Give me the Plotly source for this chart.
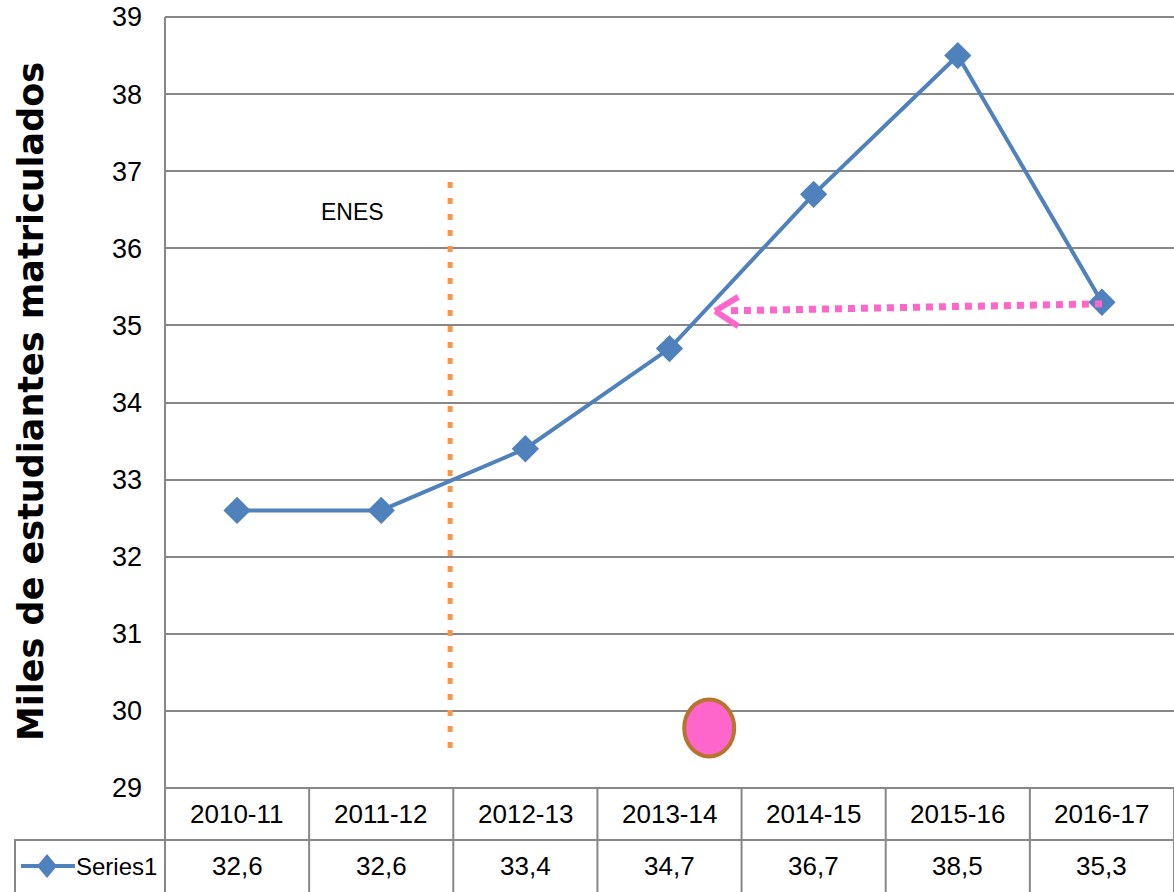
import plotly.graph_objects as go

# ---- data ----
categories = ["2010-11", "2011-12", "2012-13", "2013-14", "2014-15", "2015-16", "2016-17"]
values = [32.6, 32.6, 33.4, 34.7, 36.7, 38.5, 35.3]
value_labels = ["32,6", "32,6", "33,4", "34,7", "36,7", "38,5", "35,3"]
series_name = "Series1"
y_title = "Miles de estudiantes matriculados"
y_ticks = list(range(29, 40))

# ---- annotation positions (data coordinates) ----
enes_text = "ENES"
enes_pos = (0.80, 36.47)
enes_line_x = 1.478
enes_line_y = (29.52, 36.89)
arrow_start = (6.0, 35.28)
arrow_tip = (3.317, 35.187)
arrow_arms = [(3.477, 35.37), (3.477, 34.99)]
circle_box = (3.102, 29.41, 3.449, 30.148)

W, H = 1174, 892
ML, MR, MT, MB = 165, 0, 17, 104
PW, PH = W - ML - MR, H - MT - MB

def px_x(p):  # image pixel -> paper x
    return (p - ML) / PW

def px_y(p):  # image pixel -> paper y
    return (H - MB - p) / PH

FONT = "Liberation Sans Narrow, Arial Narrow, Liberation Sans, sans-serif"
GRID = "#878787"
BLUE = "#4F81BD"
PINK = "#FF66CC"
ORANGE = "#F79646"

fig = go.Figure()
fig.add_trace(go.Scatter(
    x=list(range(len(categories))), y=values, mode="lines+markers",
    line=dict(color=BLUE, width=4),
    marker=dict(symbol="diamond", size=21, color=BLUE),
    name=series_name, showlegend=False, cliponaxis=False,
))

shapes = []
# top and bottom borders of plot
for yy in (0, 1):
    shapes.append(dict(type="line", xref="paper", yref="paper", x0=0, x1=1.02, y0=yy, y1=yy,
                       line=dict(color=GRID, width=2), layer="below"))
# orange dotted vertical line
shapes.append(dict(type="line", xref="x", yref="y", x0=enes_line_x, x1=enes_line_x,
                   y0=enes_line_y[0], y1=enes_line_y[1],
                   line=dict(color=ORANGE, width=5, dash="6px,10px")))
# pink dotted arrow
shapes.append(dict(type="line", xref="x", yref="y", x0=arrow_start[0], y0=arrow_start[1],
                   x1=arrow_tip[0] + 0.08, y1=arrow_tip[1] + 0.002,
                   line=dict(color=PINK, width=7, dash="7px,6px")))
for ax_, ay_ in arrow_arms:
    shapes.append(dict(type="line", xref="x", yref="y", x0=arrow_tip[0], y0=arrow_tip[1],
                       x1=ax_, y1=ay_, line=dict(color=PINK, width=6)))
# pink circle
shapes.append(dict(type="circle", xref="x", yref="y", x0=circle_box[0], y0=circle_box[1],
                   x1=circle_box[2], y1=circle_box[3],
                   fillcolor=PINK, line=dict(color="#B8732F", width=4)))

# ---- data table ----
row_mid = px_y(840)
bottom = px_y(900)
shapes.append(dict(type="line", xref="paper", yref="paper", x0=0, x1=0, y0=1, y1=bottom,
                   line=dict(color=GRID, width=2)))
for i in range(len(categories)):
    xb = i + 0.5
    shapes.append(dict(type="line", xref="x", yref="paper", x0=xb, x1=xb, y0=0, y1=bottom,
                       line=dict(color=GRID, width=2)))
shapes.append(dict(type="line", xref="paper", yref="paper", x0=px_x(14), x1=1.02,
                   y0=row_mid, y1=row_mid, line=dict(color=GRID, width=2)))
shapes.append(dict(type="line", xref="paper", yref="paper", x0=px_x(15), x1=px_x(15),
                   y0=row_mid, y1=bottom, line=dict(color=GRID, width=2)))
# legend key
key_y = px_y(866)
shapes.append(dict(type="line", xref="paper", yref="paper", x0=px_x(21), x1=px_x(75),
                   y0=key_y, y1=key_y, line=dict(color=BLUE, width=4)))
cx, cy = 47, 866
dw, dh = 10, 12
path = "M {} {} L {} {} L {} {} L {} {} Z".format(
    px_x(cx - dw), key_y, px_x(cx), px_y(cy - dh), px_x(cx + dw), key_y, px_x(cx), px_y(cy + dh))
shapes.append(dict(type="path", xref="paper", yref="paper", path=path,
                   fillcolor=BLUE, line=dict(color=BLUE, width=0)))

TXT = dict(family=FONT, size=26, color="#000")
annotations = []
for i, c in enumerate(categories):
    annotations.append(dict(x=i, y=px_y(814), xref="x", yref="paper", text=c, showarrow=False,
                            xanchor="center", yanchor="middle", font=TXT))
    annotations.append(dict(x=i, y=px_y(866), xref="x", yref="paper", text=value_labels[i],
                            xanchor="center", yanchor="middle", showarrow=False, font=TXT))
annotations.append(dict(x=px_x(74), y=px_y(866), xref="paper", yref="paper", text=series_name,
                        xanchor="left", yanchor="middle", showarrow=False,
                        font=dict(family=FONT, size=24, color="#000")))
annotations.append(dict(x=enes_pos[0], y=enes_pos[1], xref="x", yref="y", text=enes_text,
                        xanchor="center", yanchor="middle", showarrow=False,
                        font=dict(family=FONT, size=23, color="#000")))
annotations.append(dict(x=px_x(31), y=px_y(402), xref="paper", yref="paper",
                        text="<b>" + y_title + "</b>", textangle=-90, showarrow=False,
                        xanchor="center", yanchor="middle",
                        font=dict(family="DejaVu Sans, Verdana, sans-serif", size=35, color="#000")))

fig.update_layout(
    width=W, height=H, margin=dict(l=ML, r=MR, t=MT, b=MB, autoexpand=False),
    paper_bgcolor="white", plot_bgcolor="white",
    shapes=shapes, annotations=annotations, showlegend=False,
    xaxis=dict(range=[-0.5, 6.5], showticklabels=False, showgrid=False, zeroline=False,
               showline=False, fixedrange=True),
    yaxis=dict(range=[29, 39], tickvals=y_ticks, showgrid=True, gridcolor=GRID, gridwidth=2,
               zeroline=False, showline=False, ticks="", ticklabelstandoff=22,
               ticklabeloverflow="allow",
               tickfont=dict(family=FONT, size=27, color="#000"), fixedrange=True),
)
fig.write_html("out.html", config={"displayModeBar": False},
               post_script="document.body.style.margin='0';document.body.style.overflow='hidden';")
